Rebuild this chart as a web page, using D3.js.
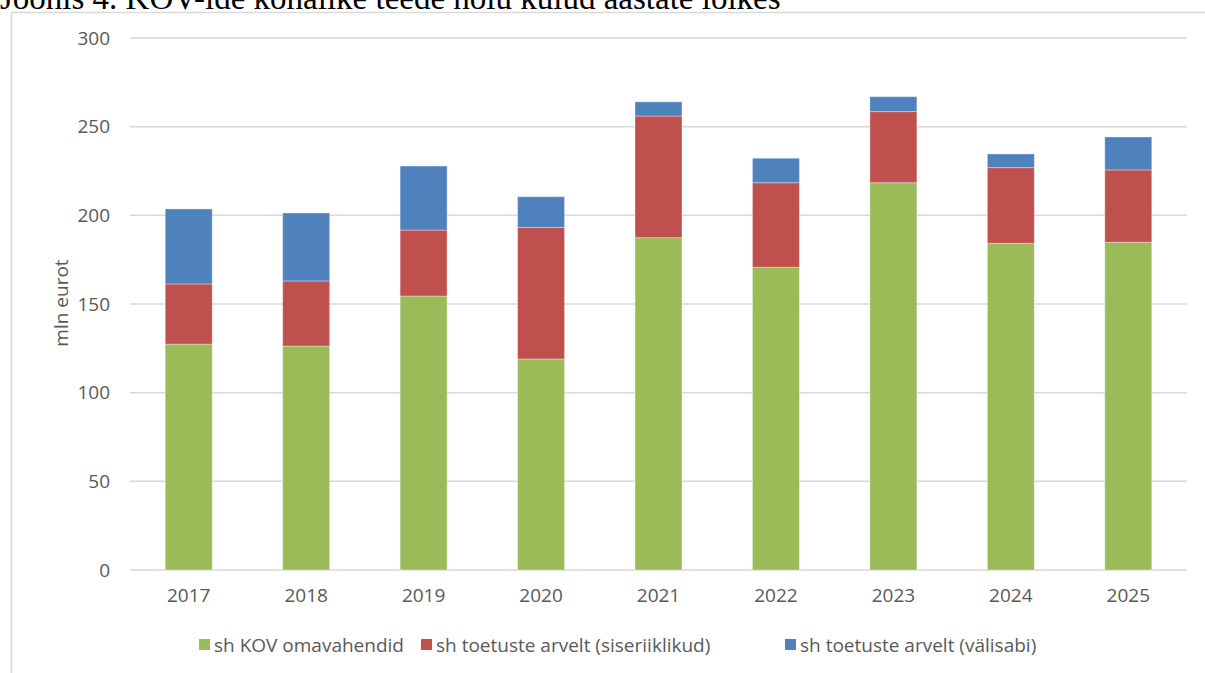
<!DOCTYPE html>
<html>
<head>
<meta charset="utf-8">
<script src="https://cdn.jsdelivr.net/npm/d3@7"></script>
<style>
  body { margin: 0; background: #fff; }
  svg { display: block; }
</style>
</head>
<body>
<script>
// data (mln eurot)
var years = ["2017", "2018", "2019", "2020", "2021", "2022", "2023", "2024", "2025"];
var omavahendid = [127.4, 126.3, 154.5, 119, 187.4, 170.7, 218.4, 184.2, 184.8];
var siseriiklikud = [33.9, 36.7, 37.2, 74.2, 68.6, 47.7, 40.1, 42.7, 40.8];
var valisabi = [42.3, 38.3, 36.1, 17.3, 8.0, 13.8, 8.4, 7.7, 18.6];
var seriesNames = ["sh KOV omavahendid", "sh toetuste arvelt (siseriiklikud)", "sh toetuste arvelt (välisabi)"];
var seriesColors = ["#9BBB59", "#C0504D", "#4F81BD"];
var yTicks = [0, 50, 100, 150, 200, 250, 300];

var svgWidth = 1205;
var svgHeight = 673;

var svg = d3.select("body")
    .append("svg")
    .attr("width", svgWidth)
    .attr("height", svgHeight);

// title, cut off at the top like in the document
svg.append("text")
    .attr("x", 0)
    .attr("y", 9)
    .attr("font-family", "Liberation Serif, Times New Roman, serif")
    .attr("font-size", 33)
    .attr("fill", "#000")
    .text("Joonis 4. KOV-ide kohalike teede hoiu kulud aastate lõikes");

// chart frame
svg.append("rect")
    .attr("x", 11.5)
    .attr("y", 12.5)
    .attr("width", 1200)
    .attr("height", 680)
    .attr("fill", "#fff")
    .attr("stroke", "#d9d9d9")
    .attr("stroke-width", 1.5);

var chartLeft = 130, chartRight = 1187, chartTop = 38, chartBottom = 570;

var table = years.map(function (y, i) {
    return { year: y, s0: omavahendid[i], s1: siseriiklikud[i], s2: valisabi[i] };
});
var stacked = d3.stack().keys(["s0", "s1", "s2"])(table);

var x = d3.scaleBand()
    .domain(years)
    .range([chartLeft, chartRight])
    .paddingInner(0.6)
    .paddingOuter(0.3);

var y = d3.scaleLinear()
    .domain([0, 300])
    .range([chartBottom, chartTop]);

// gridlines
svg.append("g")
    .selectAll("line")
    .data(yTicks)
    .join("line")
    .attr("x1", chartLeft)
    .attr("x2", chartRight)
    .attr("y1", d => y(d))
    .attr("y2", d => y(d))
    .attr("stroke", "#d9d9d9")
    .attr("stroke-width", 1.5);

// y axis labels
var leftAxis = d3.axisLeft(y).tickValues(yTicks).tickSize(0).tickPadding(20);
var yAxisG = svg.append("g")
    .attr("transform", `translate(${chartLeft}, 0)`)
    .call(leftAxis);
yAxisG.select(".domain").remove();
yAxisG.selectAll("text")
    .attr("font-family", "Open Sans, sans-serif")
    .attr("font-size", 19)
    .attr("fill", "#595959");

// bars
svg.append("g")
    .selectAll("g")
    .data(stacked)
    .join("g")
    .attr("fill", (d, i) => seriesColors[i])
    .selectAll("rect")
    .data(d => d)
    .join("rect")
    .attr("x", d => x(d.data.year))
    .attr("y", d => y(d[1]))
    .attr("width", x.bandwidth())
    .attr("height", d => y(d[0]) - y(d[1]))
    .attr("stroke", "#ffffff")
    .attr("stroke-opacity", 0.35)
    .attr("stroke-width", 1);

// x axis labels
var bottomAxis = d3.axisBottom(x).tickSize(0).tickPadding(19);
var xAxisG = svg.append("g")
    .attr("transform", `translate(0, ${chartBottom})`)
    .call(bottomAxis);
xAxisG.select(".domain").remove();
xAxisG.selectAll("text")
    .attr("font-family", "Open Sans, sans-serif")
    .attr("font-size", 19)
    .attr("fill", "#595959");

// y axis title
svg.append("text")
    .attr("transform", "translate(68, 303) rotate(-90)")
    .attr("text-anchor", "middle")
    .attr("font-family", "Open Sans, sans-serif")
    .attr("font-size", 19)
    .attr("fill", "#595959")
    .text("mln eurot");

// legend
var legendX = [199, 421, 785];
var legend = svg.append("g")
    .selectAll("g")
    .data(seriesNames)
    .join("g")
    .attr("transform", (d, i) => `translate(${legendX[i]}, 645)`);
legend.append("rect")
    .attr("x", 0)
    .attr("y", -6)
    .attr("width", 11)
    .attr("height", 11)
    .attr("fill", (d, i) => seriesColors[i]);
legend.append("text")
    .attr("x", 15)
    .attr("y", 7)
    .attr("font-family", "Open Sans, sans-serif")
    .attr("font-size", 19)
    .attr("fill", "#595959")
    .text(d => d);
</script>
</body>
</html>
